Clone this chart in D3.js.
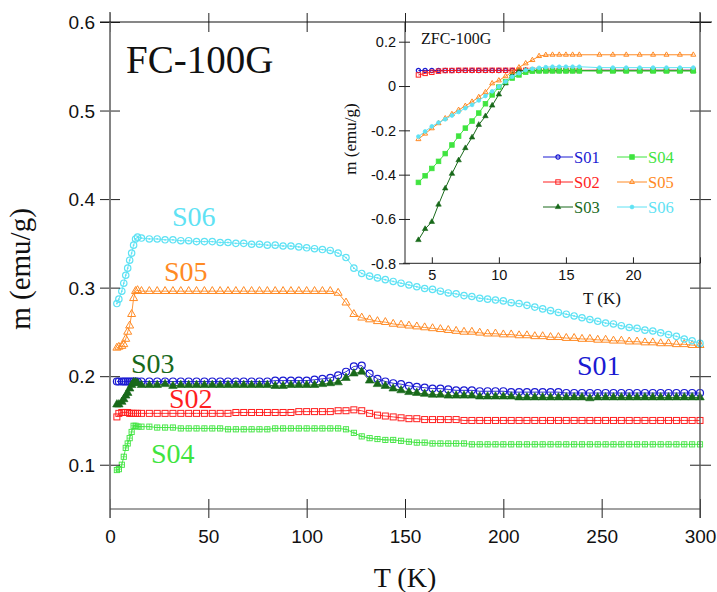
<!DOCTYPE html>
<html><head><meta charset="utf-8">
<script src="https://cdnjs.cloudflare.com/ajax/libs/d3/7.8.5/d3.min.js"></script>
<style>body{margin:0;background:#fff}svg{display:block}</style>
</head><body>
<svg id="c" width="717" height="592"></svg>
<script>
// ---------- DATA ----------
const seriesNames = ["S01","S02","S03","S04","S05","S06"];
const seriesColors = ["#1a1ad2","#ff1f1f","#18691a","#3fe43f","#ff8a24","#5fe2f4"];

// Main panel (FC-100G): temperature grid (K)
const mainT = [3.5,4.5,6,7,8,9,10,11,12,13,14,
  16,20,24,28,32,36,40,44,48,52,
  56,60,64,68,72,76,80,84,88,92,
  96,100,104,108,112,116,120,124,128,132,
  136,140,144,148,152,156,160,164,168,172,
  176,180,184,188,192,196,200,204,208,212,
  216,220,224,228,232,236,240,244,248,252,
  256,260,264,268,272,276,280,284,288,292,
  296,300];

const fcS01 = [0.194,0.194,0.194,0.194,0.194,0.194,0.194,0.194,0.194,0.194,0.194,
  0.194,0.194,0.194,0.194,0.194,0.194,0.194,0.194,0.194,0.194,
  0.194,0.194,0.194,0.194,0.194,0.194,0.194,0.195,0.195,0.195,
  0.195,0.195,0.196,0.197,0.198,0.201,0.205,0.211,0.212,0.203,
  0.197,0.194,0.192,0.191,0.189,0.188,0.187,0.186,0.186,0.185,
  0.184,0.184,0.184,0.183,0.183,0.183,0.183,0.182,0.182,0.182,
  0.182,0.182,0.182,0.182,0.181,0.181,0.181,0.181,0.181,0.181,
  0.181,0.181,0.181,0.181,0.181,0.181,0.181,0.181,0.181,0.181,
  0.181,0.181];
const fcS02 = [0.154,0.158,0.159,0.159,0.159,0.159,0.158,0.158,0.158,0.158,0.158,
  0.158,0.158,0.158,0.158,0.158,0.158,0.158,0.158,0.158,0.158,
  0.158,0.158,0.159,0.159,0.159,0.159,0.159,0.159,0.159,0.159,
  0.160,0.160,0.160,0.160,0.160,0.161,0.161,0.162,0.161,0.158,
  0.156,0.155,0.154,0.153,0.152,0.152,0.151,0.151,0.151,0.151,
  0.151,0.150,0.150,0.150,0.150,0.150,0.150,0.150,0.150,0.150,
  0.150,0.150,0.150,0.150,0.150,0.150,0.150,0.150,0.150,0.150,
  0.150,0.150,0.150,0.150,0.150,0.150,0.150,0.150,0.150,0.150,
  0.150,0.150];
const fcS03 = [0.168,0.168,0.171,0.174,0.178,0.181,0.186,0.190,0.193,0.193,0.192,
  0.190,0.190,0.190,0.191,0.189,0.190,0.190,0.190,0.190,0.190,
  0.190,0.190,0.190,0.190,0.190,0.190,0.190,0.189,0.189,0.190,
  0.190,0.190,0.190,0.191,0.192,0.193,0.198,0.203,0.205,0.195,
  0.191,0.189,0.186,0.184,0.182,0.181,0.180,0.179,0.179,0.178,
  0.178,0.178,0.178,0.177,0.177,0.177,0.177,0.177,0.176,0.176,
  0.176,0.176,0.176,0.176,0.176,0.176,0.176,0.175,0.176,0.176,
  0.176,0.176,0.176,0.176,0.176,0.176,0.176,0.176,0.176,0.176,
  0.176,0.176];
const fcS04 = [0.094,0.095,0.100,0.109,0.119,0.124,0.130,0.137,0.144,0.144,0.143,
  0.143,0.143,0.142,0.142,0.142,0.141,0.141,0.141,0.141,0.141,
  0.141,0.140,0.140,0.140,0.140,0.140,0.140,0.141,0.141,0.141,
  0.141,0.141,0.141,0.141,0.141,0.141,0.140,0.136,0.132,0.130,
  0.129,0.128,0.128,0.127,0.126,0.125,0.125,0.124,0.124,0.124,
  0.124,0.124,0.123,0.123,0.123,0.123,0.123,0.123,0.123,0.123,
  0.123,0.123,0.123,0.123,0.123,0.123,0.123,0.123,0.123,0.123,
  0.123,0.123,0.123,0.123,0.123,0.123,0.123,0.123,0.123,0.123,
  0.123,0.123];
const fcS05 = [0.232,0.233,0.234,0.236,0.242,0.250,0.257,0.270,0.288,0.296,0.297,
  0.296,0.296,0.296,0.296,0.296,0.296,0.296,0.296,0.296,0.296,
  0.296,0.296,0.296,0.296,0.296,0.296,0.296,0.296,0.296,0.296,
  0.296,0.296,0.296,0.296,0.296,0.294,0.283,0.270,0.266,0.264,
  0.262,0.261,0.259,0.258,0.257,0.256,0.255,0.254,0.253,0.252,
  0.251,0.250,0.250,0.249,0.248,0.248,0.247,0.247,0.246,0.246,
  0.245,0.245,0.244,0.244,0.243,0.243,0.242,0.242,0.241,0.241,
  0.240,0.240,0.239,0.239,0.238,0.238,0.237,0.237,0.236,0.236,
  0.235,0.235];
const fcS06 = [0.282,0.287,0.296,0.305,0.314,0.322,0.331,0.339,0.348,0.355,0.357,
  0.356,0.355,0.355,0.354,0.354,0.353,0.353,0.352,0.352,0.352,
  0.351,0.351,0.350,0.350,0.349,0.349,0.348,0.348,0.347,0.347,
  0.346,0.345,0.344,0.343,0.342,0.339,0.334,0.322,0.316,0.313,
  0.311,0.309,0.307,0.305,0.303,0.301,0.299,0.298,0.296,0.294,
  0.293,0.291,0.290,0.288,0.287,0.286,0.285,0.283,0.282,0.280,
  0.278,0.276,0.274,0.272,0.270,0.268,0.266,0.264,0.262,0.260,
  0.259,0.257,0.255,0.254,0.252,0.251,0.249,0.247,0.245,0.242,
  0.240,0.237];

// Inset (ZFC-100G)
const zfcT = [4,4.5,5,5.5,6,6.5,7,7.5,8,8.5,9,9.5,10,10.5,11,11.5,12,12.5,13,13.5,14,14.5,15,15.5,16,
  17.5,18.5,19.5,20.5,21.5,22.5,23.5,24.5];
const zfcS01 = [0.070,0.070,0.070,0.070,0.070,0.070,0.070,0.070,0.070,0.070,0.070,0.070,0.070,0.070,0.070,0.070,0.070,0.070,0.070,0.070,0.070,0.070,0.070,0.070,0.070,
  0.071,0.071,0.071,0.071,0.071,0.071,0.071,0.071];
const zfcS02 = [0.050,0.057,0.062,0.067,0.070,0.070,0.071,0.071,0.071,0.071,0.071,0.071,0.071,0.071,0.071,0.071,0.071,0.071,0.071,0.071,0.071,0.071,0.071,0.071,0.071,
  0.071,0.071,0.071,0.071,0.071,0.071,0.071,0.071];
const zfcS03 = [-0.695,-0.645,-0.613,-0.535,-0.462,-0.396,-0.335,-0.280,-0.232,-0.175,-0.136,-0.088,-0.038,0.012,0.052,0.068,0.070,0.070,0.070,0.070,0.070,0.070,0.070,0.070,0.070,
  0.069,0.069,0.069,0.069,0.069,0.069,0.069,0.069];
const zfcS04 = [-0.435,-0.405,-0.372,-0.340,-0.305,-0.266,-0.226,-0.190,-0.158,-0.122,-0.080,-0.040,-0.005,0.020,0.036,0.050,0.062,0.067,0.068,0.068,0.068,0.068,0.068,0.068,0.068,
  0.068,0.068,0.068,0.068,0.068,0.068,0.068,0.068];
const zfcS05 = [-0.240,-0.215,-0.191,-0.168,-0.146,-0.127,-0.108,-0.090,-0.071,-0.050,-0.028,0.012,0.025,0.044,0.064,0.084,0.102,0.117,0.135,0.140,0.141,0.141,0.141,0.141,0.141,
  0.141,0.141,0.141,0.141,0.141,0.141,0.141,0.141];
const zfcS06 = [-0.228,-0.205,-0.182,-0.165,-0.150,-0.133,-0.117,-0.100,-0.085,-0.065,-0.045,-0.024,-0.003,0.020,0.042,0.058,0.072,0.078,0.082,0.085,0.087,0.087,0.087,0.087,0.087,
  0.083,0.083,0.083,0.083,0.083,0.083,0.083,0.083];

const mainXTicks = [0,50,100,150,200,250,300];
const mainYTicks = [0.1,0.2,0.3,0.4,0.5,0.6];
const insetXTicks = [5,10,15,20,25];
const insetXLabels = [5,10,15,20];
const insetYTicks = [-0.8,-0.6,-0.4,-0.2,0,0.2];

// ---------- DRAW ----------
const svg = d3.select("#c");
const SANS = "'Liberation Sans', Arial, Helvetica, sans-serif";
const SERIF = "'Liberation Serif', 'Times New Roman', Times, serif";

const fcSeries = [fcS01,fcS02,fcS03,fcS04,fcS05,fcS06];
const zfcSeries = [zfcS01,zfcS02,zfcS03,zfcS04,zfcS05,zfcS06];
const markerTypes = ["circle","square","triFill","sqCross","triOpen","circleDot"];
const insetMarkerTypes = ["circle","square","triFill","sqFill","triOpen","dotFill"];

const x = d3.scaleLinear().domain([0,300]).range([110,700]);
const y = d3.scaleLinear().domain([0.05,0.6]).range([509,22]);
const ix = d3.scaleLinear().domain([3,25]).range([405,700]);
const iy = d3.scaleLinear().domain([-0.8,0.2]).range([263.3,41.7]);

function marker(g, type, color, s) {
  if (type === "circle") {
    g.append("circle").attr("r", s).attr("fill","none").attr("stroke",color).attr("stroke-width",1.2);
  } else if (type === "circleDot") {
    g.append("circle").attr("r", s).attr("fill","none").attr("stroke",color).attr("stroke-width",1.2);
    g.append("circle").attr("r", 0.9).attr("fill",color);
  } else if (type === "dotFill") {
    g.append("circle").attr("r", s).attr("fill",color).attr("stroke",color).attr("stroke-width",0.8);
  } else if (type === "square") {
    g.append("rect").attr("x",-s).attr("y",-s).attr("width",2*s).attr("height",2*s)
      .attr("fill","none").attr("stroke",color).attr("stroke-width",1);
  } else if (type === "sqCross") {
    g.append("rect").attr("x",-s).attr("y",-s).attr("width",2*s).attr("height",2*s)
      .attr("fill","none").attr("stroke",color).attr("stroke-width",0.9);
    g.append("path").attr("d",`M${-s},0H${s}M0,${-s}V${s}`).attr("stroke",color).attr("stroke-width",0.7);
  } else if (type === "sqFill") {
    g.append("rect").attr("x",-s).attr("y",-s).attr("width",2*s).attr("height",2*s)
      .attr("fill",color).attr("stroke",color).attr("stroke-width",0.8);
  } else if (type === "triFill" || type === "triOpen") {
    const h = s*Math.sqrt(3)/2;
    const p = `M0,${-h*2/3}L${s/2},${h/3}L${-s/2},${h/3}Z`;
    g.append("path").attr("d",p)
      .attr("fill", type==="triFill" ? color : "none")
      .attr("stroke",color).attr("stroke-width", type==="triFill"?0.6:1);
  }
}
function markerSize(type, inset) {
  if (!inset) return {circle:3.5,circleDot:3.2,square:3,sqCross:2.6,triFill:8.5,triOpen:8}[type];
  return {circle:2.1,dotFill:1.9,square:2.2,sqFill:2.3,triFill:5.5,triOpen:5}[type];
}

// ---- main series ----
const gMain = svg.append("g");
fcSeries.forEach((vals, k) => {
  const pts = mainT.map((t,i)=>[t, vals[i]]);
  const color = seriesColors[k];
  gMain.append("path").datum(pts)
    .attr("d", d3.line().x(d=>x(d[0])).y(d=>y(d[1])))
    .attr("fill","none").attr("stroke",color).attr("stroke-width",0.9);
  const mt = markerTypes[k];
  const sz = markerSize(mt,false);
  gMain.append("g").selectAll("g").data(pts).join("g")
    .attr("transform", d=>`translate(${x(d[0])},${y(d[1])})`)
    .each(function(){ marker(d3.select(this), mt, color, sz); });
});

// ---- main axes ----
const tickLine = "#222";
// left
const gl = svg.append("g").attr("transform","translate(110,0)")
  .call(d3.axisLeft(y).tickValues(mainYTicks).tickSize(10).tickFormat(d3.format(".1f")));
gl.select(".domain").remove();
gl.selectAll(".tick line").attr("x1",10).attr("x2",-10).attr("stroke",tickLine);
gl.selectAll(".tick text").attr("x",-15).attr("dy","0.34em")
  .style("font-family",SANS).style("font-size","19px").attr("fill","#111");
// right
const gr = svg.append("g").attr("transform","translate(700,0)")
  .call(d3.axisRight(y).tickValues(mainYTicks).tickSize(11).tickFormat(""));
gr.select(".domain").remove();
gr.selectAll(".tick line").attr("x1",-10).attr("x2",11).attr("stroke",tickLine);
// bottom
const gb = svg.append("g").attr("transform","translate(0,509)")
  .call(d3.axisBottom(x).tickValues(mainXTicks).tickSize(9));
gb.select(".domain").remove();
gb.selectAll(".tick line").attr("y1",-10).attr("y2",9).attr("stroke",tickLine);
gb.selectAll(".tick text").attr("y",34).attr("dy",0)
  .style("font-family",SANS).style("font-size","19px").attr("fill","#111");
// top
const gt = svg.append("g").attr("transform","translate(0,22)")
  .call(d3.axisTop(x).tickValues(mainXTicks).tickSize(9).tickFormat(""));
gt.select(".domain").remove();
gt.selectAll(".tick line").attr("y1",10).attr("y2",-9).attr("stroke",tickLine);
// frame lines
svg.append("line").attr("x1",110).attr("x2",110).attr("y1",12).attr("y2",518).attr("stroke","#777").attr("stroke-width",1.8);
svg.append("line").attr("x1",700).attr("x2",700).attr("y1",12).attr("y2",518).attr("stroke","#555").attr("stroke-width",1.4);
svg.append("line").attr("x1",100).attr("x2",712).attr("y1",22).attr("y2",22).attr("stroke","#111").attr("stroke-width",1.1);
svg.append("line").attr("x1",110).attr("x2",700).attr("y1",509).attr("y2",509).attr("stroke","#444").attr("stroke-width",1.2);

// main titles
svg.append("text").attr("transform","translate(30,269) rotate(-90)").attr("text-anchor","middle")
  .style("font-family",SERIF).style("font-size","29px").attr("fill","#111").text("m (emu/g)");
svg.append("text").attr("x",405).attr("y",587).attr("text-anchor","middle")
  .style("font-family",SERIF).style("font-size","28px").attr("fill","#111").text("T (K)");
svg.append("text").attr("x",126).attr("y",73)
  .style("font-family",SERIF).style("font-size","39px").attr("fill","#111").text("FC-100G");

// series labels on main panel
const labelPos = {S06:[172,226],S05:[164,281],S03:[131,373],S02:[169,408],S04:[151,463],S01:[577,375]};
seriesNames.forEach((n,k)=>{
  svg.append("text").attr("x",labelPos[n][0]).attr("y",labelPos[n][1])
    .style("font-family",SERIF).style("font-size","28px").attr("fill",seriesColors[k]).text(n);
});

// ---- inset ----
const gIn = svg.append("g");
zfcSeries.forEach((vals,k)=>{
  const pts = zfcT.map((t,i)=>[t, vals[i]]);
  const color = seriesColors[k];
  gIn.append("path").datum(pts)
    .attr("d", d3.line().x(d=>ix(d[0])).y(d=>iy(d[1])))
    .attr("fill","none").attr("stroke",color).attr("stroke-width",1);
  const mt = insetMarkerTypes[k];
  const sz = markerSize(mt,true);
  gIn.append("g").selectAll("g").data(pts).join("g")
    .attr("transform", d=>`translate(${ix(d[0])},${iy(d[1])})`)
    .each(function(){ marker(d3.select(this), mt, color, sz); });
});
// inset axes
const igl = svg.append("g").attr("transform","translate(405,0)")
  .call(d3.axisLeft(iy).tickValues(insetYTicks).tickSize(6)
    .tickFormat(d => d===0 ? "0" : d.toFixed(1)));
igl.select(".domain").remove();
igl.selectAll(".tick line").attr("x1",5).attr("x2",-6).attr("stroke",tickLine);
igl.selectAll(".tick text").attr("x",-9).attr("dy","0.34em")
  .style("font-family",SANS).style("font-size","14.5px").attr("fill","#111");
const igb = svg.append("g").attr("transform","translate(0,263.3)")
  .call(d3.axisBottom(ix).tickValues(insetXTicks).tickSize(0)
    .tickFormat(d => insetXLabels.includes(d) ? String(d) : ""));
igb.select(".domain").remove();
igb.selectAll(".tick line").attr("y1",0).attr("y2",-6).attr("stroke",tickLine);
igb.selectAll(".tick text").attr("y",17).attr("dy",0)
  .style("font-family",SANS).style("font-size","14.5px").attr("fill","#111");
svg.append("line").attr("x1",405).attr("x2",405).attr("y1",22).attr("y2",263.3).attr("stroke","#222").attr("stroke-width",1);
svg.append("line").attr("x1",403).attr("x2",700).attr("y1",263.3).attr("y2",263.3).attr("stroke","#222").attr("stroke-width",1);

svg.append("text").attr("x",421).attr("y",44)
  .style("font-family",SERIF).style("font-size","16px").attr("fill","#111").text("ZFC-100G");
svg.append("text").attr("x",602).attr("y",304).attr("text-anchor","middle")
  .style("font-family",SERIF).style("font-size","17px").attr("fill","#111").text("T (K)");
svg.append("text").attr("transform","translate(356,139) rotate(-90)").attr("text-anchor","middle")
  .style("font-family",SERIF).style("font-size","17px").attr("fill","#111").text("m (emu/g)");

// legend
const legX = [543, 617], legY = [157, 182, 207];
seriesNames.forEach((n,k)=>{
  const cx = legX[Math.floor(k/3)], cy = legY[k%3];
  const color = seriesColors[k];
  const g = svg.append("g");
  g.append("line").attr("x1",cx).attr("x2",cx+30).attr("y1",cy).attr("y2",cy).attr("stroke",color).attr("stroke-width",1);
  const mg = g.append("g").attr("transform",`translate(${cx+15},${cy})`);
  marker(mg, insetMarkerTypes[k], color, markerSize(insetMarkerTypes[k],true));
  g.append("text").attr("x",cx+31).attr("y",cy+5.5)
    .style("font-family",SERIF).style("font-size","16.5px").attr("fill",color).text(n);
});
</script>
</body></html>
